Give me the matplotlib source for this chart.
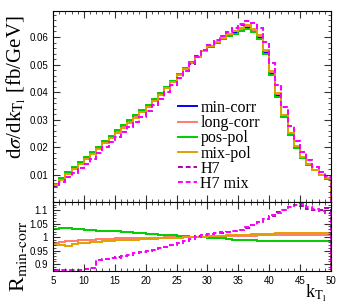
import matplotlib
matplotlib.use("Agg")
import matplotlib.pyplot as plt
import numpy as np
from matplotlib.ticker import MultipleLocator

edges = np.arange(5, 51, 1)

# min-corr distribution [fb/GeV], one value per 1 GeV bin from 5 to 50
min_corr = [0.0064, 0.0086, 0.0106, 0.0124, 0.0142, 0.0160, 0.0178, 0.0198,
            0.0218, 0.0237, 0.0256, 0.0275, 0.0293, 0.0311, 0.0330, 0.0350,
            0.0370, 0.0392, 0.0415, 0.0438, 0.0462, 0.0485, 0.0507, 0.0528,
            0.0548, 0.0565, 0.0580, 0.0595, 0.0607, 0.0618, 0.0628, 0.0636,
            0.0624, 0.0600, 0.0546, 0.0469, 0.0390, 0.0314, 0.0250, 0.0200,
            0.0164, 0.0139, 0.0118, 0.0100, 0.0086]

# ratios to min-corr
r_long = [0.978, 0.980, 0.984, 0.986, 0.988, 0.990, 0.991, 0.992, 0.993,
          0.994, 0.995, 0.995, 0.996, 0.996, 0.997, 0.997, 0.998, 0.998,
          0.999, 0.999, 1.000, 1.000, 1.000, 1.001, 1.001, 1.002, 1.002,
          1.003, 1.003, 1.004, 1.004, 1.005, 1.005, 1.006, 1.006, 1.007,
          1.007, 1.007, 1.008, 1.008, 1.008, 1.008, 1.008, 1.008, 1.008]
r_pos = [1.031, 1.032, 1.032, 1.031, 1.029, 1.027, 1.026, 1.024, 1.023,
         1.022, 1.021, 1.019, 1.018, 1.016, 1.014, 1.013, 1.011, 1.009,
         1.008, 1.006, 1.005, 1.003, 1.002, 1.000, 0.999, 0.998, 0.996,
         0.995, 0.993, 0.991, 0.990, 0.989, 0.988, 0.987, 0.986, 0.986,
         0.985, 0.985, 0.985, 0.986, 0.986, 0.986, 0.987, 0.987, 0.987]
r_mix = [0.971, 0.969, 0.967, 0.975, 0.977, 0.979, 0.981, 0.983, 0.985,
         0.986, 0.988, 0.989, 0.990, 0.991, 0.992, 0.993, 0.994, 0.995,
         0.996, 0.997, 0.998, 0.999, 1.000, 1.001, 1.002, 1.003, 1.004,
         1.005, 1.006, 1.007, 1.008, 1.009, 1.010, 1.011, 1.012, 1.013,
         1.014, 1.015, 1.015, 1.016, 1.016, 1.015, 1.015, 1.016, 1.015]
r_h7 = [0.878, 0.878, 0.878, 0.878, 0.878, 0.880, 0.884, 0.916, 0.918,
        0.921, 0.925, 0.930, 0.935, 0.940, 0.944, 0.949, 0.953, 0.958,
        0.964, 0.970, 0.977, 0.986, 0.993, 1.003, 1.006, 1.011, 1.014,
        1.016, 1.020, 1.023, 1.027, 1.035, 1.045, 1.056, 1.068, 1.078,
        1.092, 1.100, 1.112, 1.120, 1.116, 1.105, 1.100, 1.102, 1.106]
r_h7mix = [0.879, 0.878, 0.879, 0.878, 0.879, 0.881, 0.885, 0.915, 0.919,
           0.922, 0.924, 0.931, 0.934, 0.941, 0.945, 0.950, 0.952, 0.959,
           0.965, 0.971, 0.978, 0.985, 0.994, 1.002, 1.007, 1.010, 1.015,
           1.017, 1.019, 1.024, 1.028, 1.036, 1.044, 1.057, 1.067, 1.080,
           1.090, 1.102, 1.110, 1.118, 1.122, 1.112, 1.103, 1.098, 1.090]

plt.rcParams['font.family'] = ['Liberation Serif', 'DejaVu Serif']
plt.rcParams['mathtext.fontset'] = 'stix'

mc = np.array(min_corr)
dash = (0, (2.5, 1.5))
series = [
    ("min-corr", mc, None, "#0000ff", "-"),
    ("long-corr", mc * np.array(r_long), r_long, "#ff7a6e", "-"),
    ("pos-pol", mc * np.array(r_pos), r_pos, "#00cc00", "-"),
    ("mix-pol", mc * np.array(r_mix), r_mix, "#e0a000", "-"),
    ("H7", mc * np.array(r_h7), r_h7, "#b000b0", dash),
    ("H7 mix", mc * np.array(r_h7mix), r_h7mix, "#ff00ff", dash),
]

fig = plt.figure(figsize=(3.49, 3.07), dpi=100)
ax = fig.add_axes([0.152, 0.342, 0.796, 0.622])
axr = fig.add_axes([0.152, 0.117, 0.796, 0.225], sharex=ax)

for name, top, ratio, col, ls in series:
    ax.stairs(top, edges, color=col, lw=1.4, ls=ls, label=name)
    if ratio is not None:
        axr.stairs(ratio, edges, color=col, lw=1.4, ls=ls)

ax.set_xlim(5, 50)
ax.set_ylim(0.0002, 0.0694)
axr.set_ylim(0.874, 1.13)

for a in (ax, axr):
    a.tick_params(which='both', direction='in', top=True, right=True,
                  labelsize=7, colors='#333333', labelcolor='black')
    a.tick_params(which='major', length=5)
    a.tick_params(which='minor', length=2.5)
    a.xaxis.set_major_locator(MultipleLocator(5))
    a.xaxis.set_minor_locator(MultipleLocator(1))

ax.yaxis.set_major_locator(MultipleLocator(0.01))
ax.yaxis.set_minor_locator(MultipleLocator(0.002))
axr.yaxis.set_minor_locator(MultipleLocator(0.01))
axr.set_yticks([0.9, 0.95, 1.0, 1.05, 1.1])
axr.set_yticklabels(["0.9", "0.95", "1", "1.05", "1.1"])
ax.set_yticks([0.01, 0.02, 0.03, 0.04, 0.05, 0.06])
ax.set_yticklabels(["0.01", "0.02", "0.03", "0.04", "0.05", "0.06"])
for lab in ax.get_yticklabels() + axr.get_yticklabels() + axr.get_xticklabels():
    lab.set_family('Liberation Sans')
plt.setp(ax.get_xticklabels(), visible=False)

ax.set_ylabel(r"d$\sigma$/dk$_{\mathrm{T_{l}}}$ [fb/GeV]", fontsize=15)
axr.set_ylabel(r"R$_{\mathrm{min\text{-}corr}}$", fontsize=16)
ax.yaxis.set_label_coords(-0.09, 0.6)
axr.yaxis.set_label_coords(-0.086, 0.22)
axr.set_xlabel(r"k$_{\mathrm{T_{l}}}$", fontsize=13)
axr.xaxis.set_label_coords(0.945, -0.17)

ax.legend(loc='upper left', bbox_to_anchor=(0.45, 0.534), frameon=False,
          fontsize=11.5, handlelength=1.2, handletextpad=0.2,
          labelspacing=-0.05, borderaxespad=0.0, borderpad=0.0)

fig.savefig("out.png", dpi=100)
